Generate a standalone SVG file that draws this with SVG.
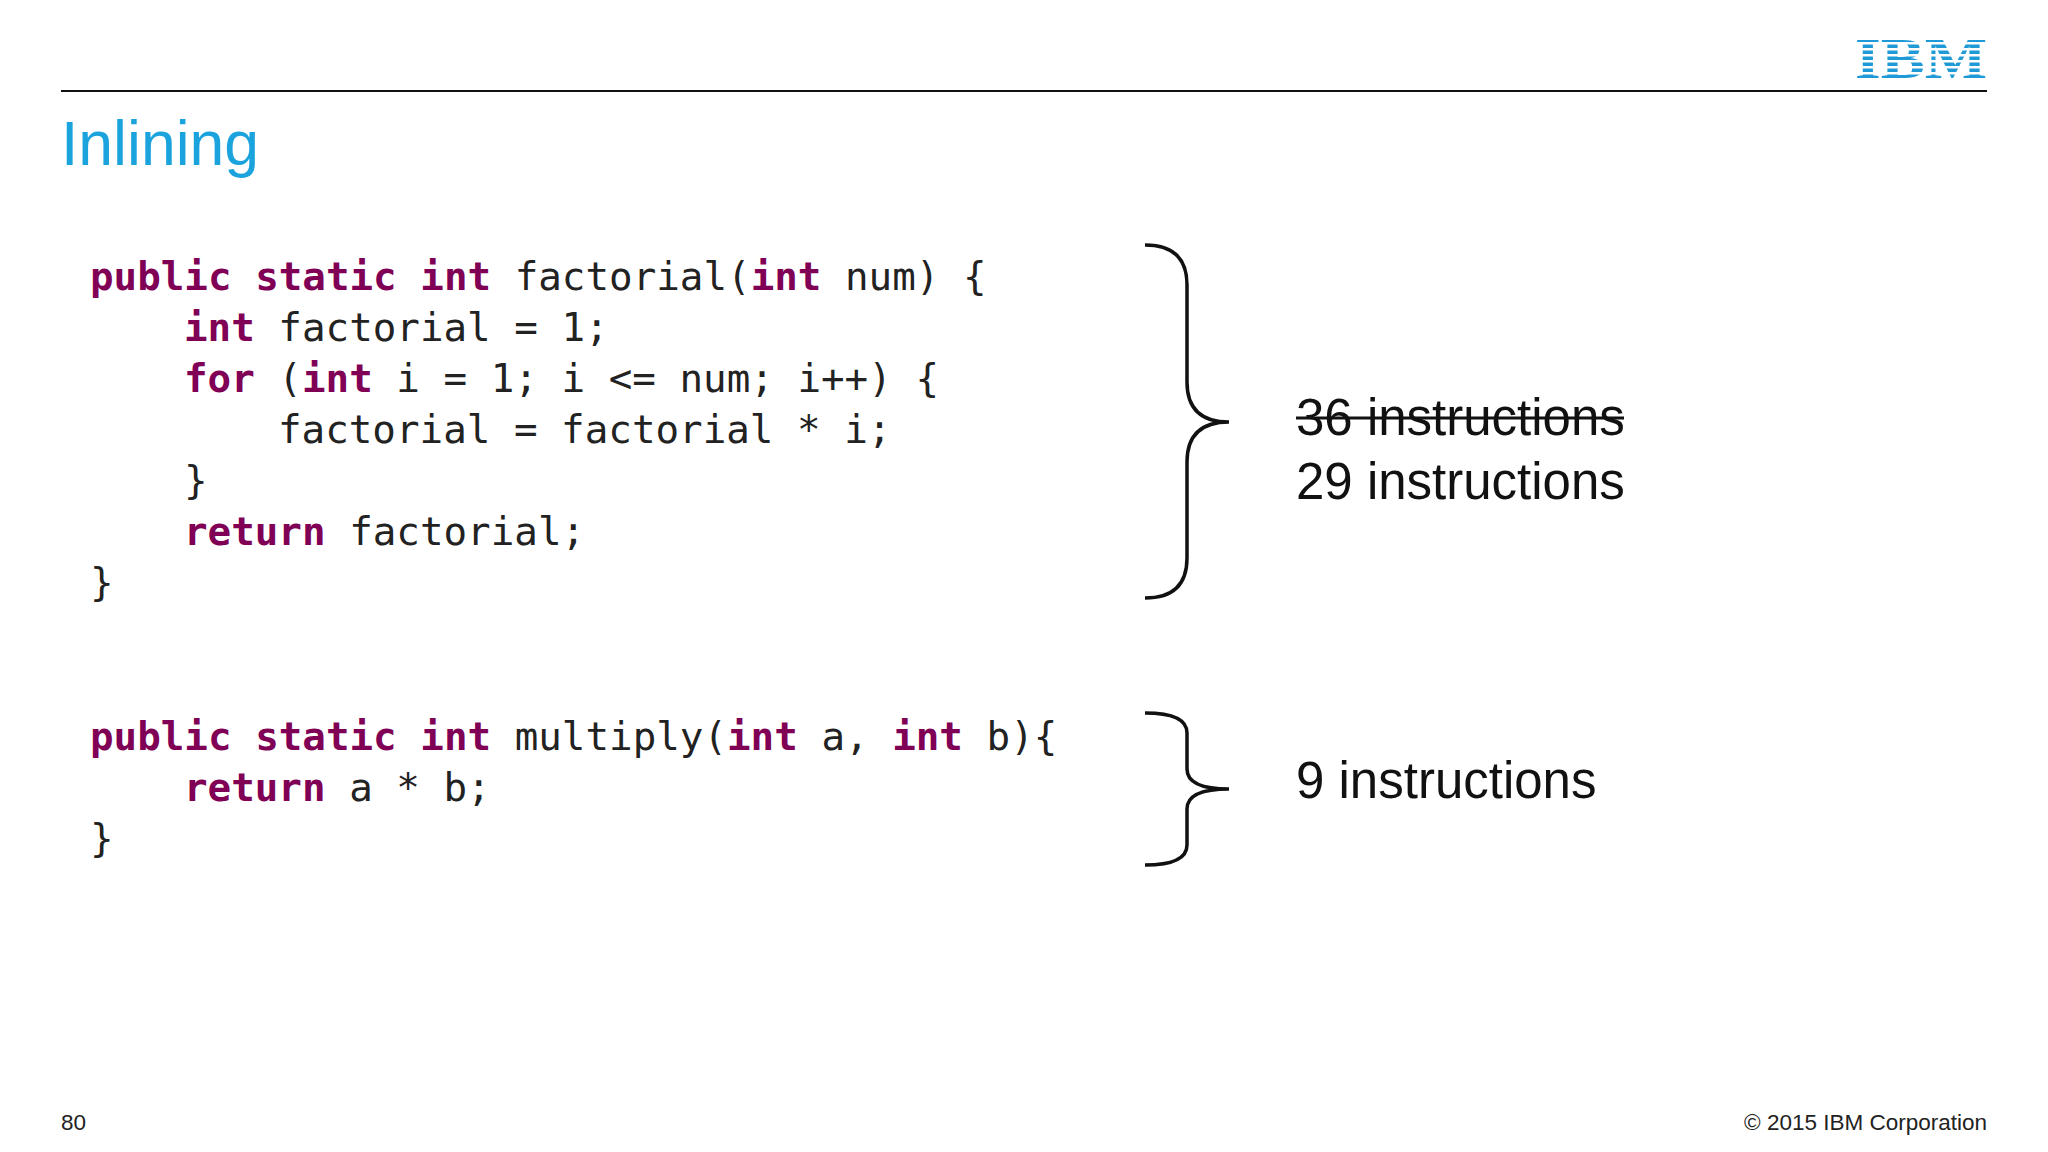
<svg xmlns="http://www.w3.org/2000/svg" width="2048" height="1152" viewBox="0 0 2048 1152">
<style>
.code{font-family:"DejaVu Sans Mono","Liberation Mono",monospace;font-size:39.2px;fill:#222;white-space:pre}
.kw{fill:#7f0055;font-weight:bold}
.lbl{font-family:"Liberation Sans",Arial,sans-serif;font-size:51px;fill:#111}
.foot{font-family:"Liberation Sans",Arial,sans-serif;font-size:22.5px;fill:#222}
.brace{fill:none;stroke:#111;stroke-width:3.5}
</style>
<rect width="2048" height="1152" fill="#fff"/>
<g id="header">
<line x1="61" y1="91" x2="1987" y2="91" stroke="#111" stroke-width="2"/>
<text x="61" y="165" font-family="Liberation Sans,Arial,sans-serif" font-size="62.5" fill="#1aa3dc">Inlining</text>
<g id="logo">
<text x="1921" y="78" text-anchor="middle" font-family="Liberation Serif,serif" font-weight="bold" font-size="58" fill="#1f9ad6" textLength="132" lengthAdjust="spacingAndGlyphs">IBM</text>
<g fill="#fff"><rect x="1850" y="42" width="142" height="2.5"/><rect x="1850" y="48" width="142" height="2.5"/><rect x="1850" y="54" width="142" height="2.5"/><rect x="1850" y="60" width="142" height="2.5"/><rect x="1850" y="66" width="142" height="2.5"/><rect x="1850" y="72" width="142" height="2.5"/></g>
</g>
</g>
<g id="factorial-code" class="code">
<text x="90" y="290" class="code"><tspan class="kw">public static int</tspan> factorial(<tspan class="kw">int</tspan> num) {</text>
<text x="184" y="341" class="code"><tspan class="kw">int</tspan> factorial = 1;</text>
<text x="184" y="392" class="code"><tspan class="kw">for</tspan> (<tspan class="kw">int</tspan> i = 1; i &lt;= num; i++) {</text>
<text x="278" y="443" class="code">factorial = factorial * i;</text>
<text x="184" y="494" class="code">}</text>
<text x="184" y="545" class="code"><tspan class="kw">return</tspan> factorial;</text>
<text x="90" y="596" class="code">}</text>
</g>
<g id="multiply-code">
<text x="90" y="750" class="code"><tspan class="kw">public static int</tspan> multiply(<tspan class="kw">int</tspan> a, <tspan class="kw">int</tspan> b){</text>
<text x="184" y="801" class="code"><tspan class="kw">return</tspan> a * b;</text>
<text x="90" y="852" class="code">}</text>
</g>
<g id="connectors">
<path class="brace" d="M1145 245 Q1187 245 1187 285 L1187 382 Q1187 422 1229 422 Q1187 422 1187 462 L1187 558 Q1187 598 1145 598"/>
<path class="brace" d="M1145 713 Q1187 713 1187 733 L1187 769 Q1187 789 1229 789 Q1187 789 1187 809 L1187 845 Q1187 865 1145 865"/>
</g>
<g id="label-factorial">
<text x="1296" y="435" class="lbl">36 instructions</text>
<line x1="1296" y1="418" x2="1624" y2="418" stroke="#111" stroke-width="3"/>
<text x="1296" y="499" class="lbl">29 instructions</text>
</g>
<g id="label-multiply">
<text x="1296" y="798" class="lbl">9 instructions</text>
</g>
<g id="footer">
<text x="61" y="1130" class="foot">80</text>
<text x="1987" y="1130" class="foot" text-anchor="end">© 2015 IBM Corporation</text>
</g>
</svg>
